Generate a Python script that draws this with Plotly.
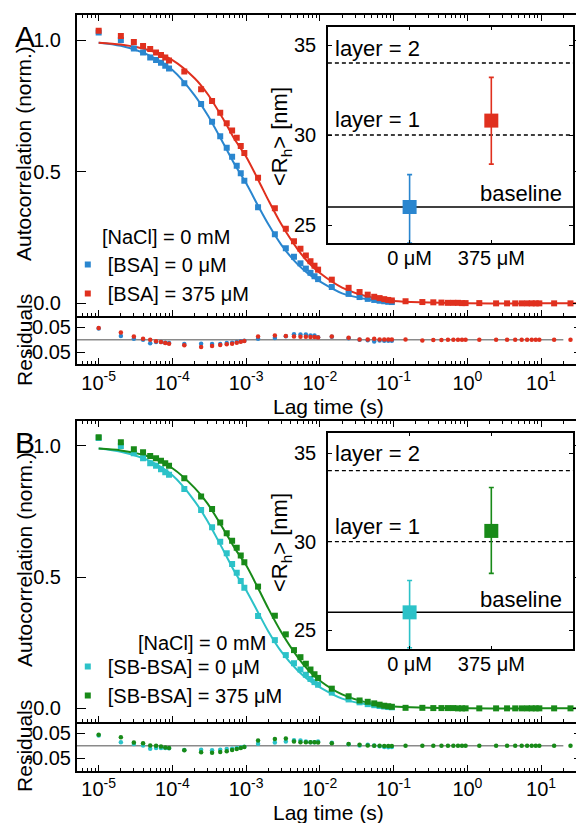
import plotly.graph_objects as go

# the page body adds an 8px offset, so the figure is laid out in page pixels minus it
PAGE_W, PAGE_H = 584, 823
OFF = 8
W, H = PAGE_W - OFF, PAGE_H - OFF
FONT = "Liberation Sans, Arial, Helvetica, sans-serif"

# ---------------- data ----------------
lag_time = [1e-5, 2e-5, 3e-5, 4e-5, 5e-5, 6e-5, 7e-5, 8e-5, 9e-5,
            1.45e-4, 2.45e-4, 3.45e-4, 4.45e-4, 5.45e-4, 6.45e-4, 7.45e-4, 8.45e-4, 9.45e-4,
            1.45e-3, 2.45e-3, 3.45e-3, 4.45e-3, 5.45e-3, 6.45e-3, 7.45e-3, 8.45e-3, 9.45e-3,
            1.45e-2, 2.45e-2, 3.45e-2, 4.45e-2, 5.45e-2, 6.45e-2, 7.45e-2, 8.45e-2, 9.45e-2,
            0.145, 0.245, 0.345, 0.445, 0.545, 0.645, 0.745, 0.845, 0.945,
            1.45, 2.45, 3.45, 4.45, 5.45, 6.45, 7.45, 8.45, 9.45,
            15, 25, 35]

# Panel A : BSA
bsa0_A = [1.029, 1.000, 0.968, 0.953, 0.934, 0.924, 0.914, 0.902, 0.892,
          0.836, 0.757, 0.690, 0.635, 0.591, 0.557, 0.523, 0.494, 0.466,
          0.365, 0.262, 0.209, 0.177, 0.152, 0.132, 0.116, 0.103, 0.092,
          0.062, 0.036, 0.024, 0.017, 0.013, 0.010, 0.008, 0.006, 0.005]
bsa375_A = [1.035, 1.015, 0.992, 0.977, 0.966, 0.953, 0.943, 0.934, 0.922,
            0.880, 0.813, 0.768, 0.724, 0.684, 0.656, 0.629, 0.598, 0.571,
            0.477, 0.361, 0.283, 0.236, 0.207, 0.182, 0.160, 0.143, 0.128,
            0.090, 0.059, 0.043, 0.033, 0.025, 0.020, 0.016, 0.013, 0.011,
            0.008, 0.005, 0.004, 0.003, 0.002, 0.002, 0.002, 0.001, 0.001,
            0.001, 0.000, 0.000, 0.000, 0.000, 0.000, 0.000, 0.000, 0.000,
            0.000, 0.000, 0.000]
res_bsa0_A = [0.044, 0.015, 0.004, 0.000, -0.014, -0.009, -0.009, -0.012, -0.013,
              -0.017, -0.016, -0.017, -0.017, -0.013, -0.012, -0.009, -0.006, -0.004,
              0.004, 0.007, 0.014, 0.021, 0.020, 0.020, 0.017, 0.017, 0.010,
              0.012, 0.006, 0.000, -0.002, -0.007, -0.003, -0.004, -0.004, -0.004]
res_bsa375_A = [0.046, 0.028, 0.013, 0.004, 0.000, -0.006, -0.009, -0.013, -0.016,
                -0.022, -0.029, -0.025, -0.021, -0.018, -0.016, -0.012, -0.008, -0.005,
                0.013, 0.017, 0.015, 0.013, 0.012, 0.012, 0.011, 0.011, 0.009,
                0.013, 0.008, 0.001, 0.001, 0.004, 0.001, 0.001, 0.001, 0.001,
                0.001, -0.003, -0.001, -0.001, 0.000, 0.000, 0.000, 0.000, 0.000,
                0.000, 0.000, 0.000, 0.000, 0.000, 0.000, 0.000, 0.000, 0.000,
                0.000, 0.000, 0.000]

fit_lag = [1e-5, 2e-5, 5e-5, 1e-4, 2e-4, 3e-4, 5e-4, 7e-4, 1e-3, 1.5e-3, 2e-3, 3e-3,
           5e-3, 7e-3, 1e-2, 2e-2, 5e-2, 1e-1, 1, 10, 40]
fit_bsa0_A = [0.990, 0.978, 0.940, 0.886, 0.790, 0.715, 0.603, 0.527, 0.456, 0.363, 0.300,
              0.222, 0.148, 0.112, 0.083, 0.038, 0.013, 0.005]
fit_bsa375_A = [0.990, 0.983, 0.960, 0.924, 0.855, 0.795, 0.695, 0.622, 0.557, 0.462, 0.392,
                0.300, 0.205, 0.155, 0.115, 0.060, 0.022, 0.009, 0.000, 0.000, 0.000]

# Panel B : SB-BSA
sb0_B = [1.030, 1.000, 0.972, 0.953, 0.934, 0.924, 0.911, 0.900, 0.890,
         0.836, 0.756, 0.690, 0.635, 0.591, 0.550, 0.517, 0.485, 0.460,
         0.352, 0.260, 0.203, 0.172, 0.148, 0.128, 0.112, 0.100, 0.090,
         0.060, 0.034, 0.023, 0.016, 0.012, 0.009, 0.007, 0.005, 0.004]
sb375_B = [1.033, 1.014, 0.987, 0.976, 0.962, 0.953, 0.944, 0.934, 0.924,
           0.877, 0.807, 0.760, 0.708, 0.667, 0.639, 0.612, 0.582, 0.557,
           0.464, 0.353, 0.282, 0.222, 0.195, 0.170, 0.148, 0.130, 0.116,
           0.075, 0.046, 0.030, 0.025, 0.019, 0.014, 0.010, 0.008, 0.006,
           0.002, 0.002, 0.001, 0.001, 0.001, 0.001, 0.000, 0.000, 0.000,
           0.000, 0.000, 0.000, 0.000, 0.000, 0.000, 0.000, 0.000, 0.000,
           0.000, 0.000, 0.000]
res_sb0_B = [0.040, 0.014, 0.007, 0.001, -0.012, -0.009, -0.009, -0.009, -0.010,
             -0.017, -0.016, -0.018, -0.016, -0.013, -0.012, -0.009, -0.007, -0.004,
             0.008, 0.013, 0.017, 0.021, 0.020, 0.017, 0.014, 0.014, 0.017,
             0.012, 0.006, 0.001, 0.004, 0.001, -0.002, -0.005, -0.006, -0.005]
res_sb375_B = [0.043, 0.033, 0.013, 0.010, 0.001, 0.000, -0.003, -0.007, -0.009,
               -0.018, -0.026, -0.028, -0.025, -0.022, -0.017, -0.013, -0.009, -0.005,
               0.020, 0.026, 0.028, 0.017, 0.014, 0.014, 0.014, 0.014, 0.013,
               0.010, 0.007, 0.004, 0.001, 0.000, 0.000, -0.001, -0.001, -0.001,
               0.000, 0.000, 0.000, 0.000, 0.000, 0.000, 0.000, 0.000, 0.000,
               0.000, 0.000, 0.000, 0.000, 0.000, 0.000, 0.000, 0.000, 0.000,
               0.000, 0.000, 0.000]
fit_sb0_B = [0.990, 0.978, 0.942, 0.888, 0.790, 0.713, 0.598, 0.520, 0.450, 0.358, 0.293,
             0.216, 0.144, 0.108, 0.080, 0.037, 0.012, 0.005]
fit_sb375_B = [0.990, 0.983, 0.958, 0.915, 0.840, 0.780, 0.680, 0.610, 0.545, 0.450, 0.380,
               0.290, 0.195, 0.145, 0.105, 0.053, 0.018, 0.007, 0.000, 0.000, 0.000]

residual_zero_span = [5e-6, 20]
residual_zero_value = [0, 0]

# insets: hydrodynamic radius
conc_labels = ["0 μM", "375 μM"]
conc_pos = [1, 2]
inset_xspan = [0, 3]
rh_A = [26.0, 30.8]
rh_err_up_A = [1.8, 2.4]
rh_err_dn_A = [2.0, 2.42]
rh_B = [26.0, 30.6]
rh_err_up_B = [1.8, 2.45]
rh_err_dn_B = [2.0, 2.4]
layer_levels = [34, 30]
layer_labels = ["layer = 2", "layer = 1"]
baseline_level = 26

tick_exponents = [-5, -4, -3, -2, -1, 0, 1]
tick_labels = ["10<sup>-5</sup>", "10<sup>-4</sup>", "10<sup>-3</sup>", "10<sup>-2</sup>",
               "10<sup>-1</sup>", "10<sup>0</sup>", "10<sup>1</sup>"]
main_yticks = [0, 0.5, 1.0]
main_yticklabels = ["0.0", "0.5", "1.0"]
res_yticks = [-0.05, 0.05]
res_yticklabels = ["-0.05", "0.05"]
inset_yticks = [25, 30, 35]

RED = "#E0301E"
BLUE = "#2A86CF"
CYAN = "#2CC2C8"
GREEN = "#188A18"


def px_x(p):
    return (p - OFF) / W


def px_y(p):
    return 1 - (p - OFF) / H


major_tickvals = [10.0 ** e for e in tick_exponents]
minor_tickvals = [k * 10.0 ** e for e in range(-6, 2) for k in range(2, 10)]

fig = go.Figure()

MAIN_XDOM = [px_x(77), 1.0]
XRANGE = [-5.297, 1.554]
INSET_XDOM = [px_x(329), px_x(575)]

panels = [
    dict(tag="A", main=("x", "y"), res=("x2", "y2"), ins=("x3", "y3"), legend="legend",
         main_dom=[px_y(316), px_y(15)], res_dom=[px_y(364), px_y(316)],
         ins_dom=[px_y(243), px_y(27)], main_range=[-0.048, 1.095],
         res_range=[-0.0957, 0.0933], ins_range=[24, 36],
         d0=bsa0_A, d1=bsa375_A, r0=res_bsa0_A, r1=res_bsa375_A,
         f0=fit_bsa0_A, f1=fit_bsa375_A, c0=BLUE, c1=RED,
         n0="[BSA] = 0 μM", n1="[BSA] = 375 μM",
         rh=rh_A, eu=rh_err_up_A, ed=rh_err_dn_A),
    dict(tag="B", main=("x4", "y4"), res=("x5", "y5"), ins=("x6", "y6"), legend="legend2",
         main_dom=[px_y(722), px_y(421)], res_dom=[px_y(770.5), px_y(722)],
         ins_dom=[px_y(649), px_y(433)], main_range=[-0.052, 1.095],
         res_range=[-0.0976, 0.0933], ins_range=[23.93, 36.13],
         d0=sb0_B, d1=sb375_B, r0=res_sb0_B, r1=res_sb375_B,
         f0=fit_sb0_B, f1=fit_sb375_B, c0=CYAN, c1=GREEN,
         n0="[SB-BSA] = 0 μM", n1="[SB-BSA] = 375 μM",
         rh=rh_B, eu=rh_err_up_B, ed=rh_err_dn_B),
]

layout_axes = {}


def axname(a):
    return a[0] + "axis" + a[1:]


for P in panels:
    mx, my = P["main"]
    rx, ry = P["res"]
    ix, iy = P["ins"]
    # fit lines
    fig.add_trace(go.Scatter(x=fit_lag[:len(P["f0"])], y=P["f0"], mode="lines",
                             line=dict(color=P["c0"], width=2, shape="spline", smoothing=0.8),
                             showlegend=False, xaxis=mx, yaxis=my))
    fig.add_trace(go.Scatter(x=fit_lag[:len(P["f1"])], y=P["f1"], mode="lines",
                             line=dict(color=P["c1"], width=2, shape="spline", smoothing=0.8),
                             showlegend=False, xaxis=mx, yaxis=my))
    # data
    fig.add_trace(go.Scatter(x=lag_time[:len(P["d0"])], y=P["d0"], mode="markers",
                             marker=dict(symbol="square", size=6, color=P["c0"]),
                             name=P["n0"], legend=P["legend"], xaxis=mx, yaxis=my))
    fig.add_trace(go.Scatter(x=lag_time[:len(P["d1"])], y=P["d1"], mode="markers",
                             marker=dict(symbol="square", size=6, color=P["c1"]),
                             name=P["n1"], legend=P["legend"], xaxis=mx, yaxis=my))
    # residuals
    fig.add_trace(go.Scatter(x=residual_zero_span, y=residual_zero_value, mode="lines",
                             line=dict(color="#8a8a8a", width=1.5), showlegend=False,
                             xaxis=rx, yaxis=ry))
    fig.add_trace(go.Scatter(x=lag_time[:len(P["r0"])], y=P["r0"], mode="markers",
                             marker=dict(symbol="circle", size=4.5, color=P["c0"]),
                             showlegend=False, xaxis=rx, yaxis=ry))
    fig.add_trace(go.Scatter(x=lag_time[:len(P["r1"])], y=P["r1"], mode="markers",
                             marker=dict(symbol="circle", size=4.5, color=P["c1"]),
                             showlegend=False, xaxis=rx, yaxis=ry))
    # inset reference levels
    for lev in layer_levels:
        fig.add_trace(go.Scatter(x=inset_xspan, y=[lev, lev], mode="lines",
                                 line=dict(color="black", width=1.3, dash="4px,3px"),
                                 showlegend=False, hoverinfo="skip", xaxis=ix, yaxis=iy))
    fig.add_trace(go.Scatter(x=inset_xspan, y=[baseline_level, baseline_level], mode="lines",
                             line=dict(color="black", width=1.5),
                             showlegend=False, hoverinfo="skip", xaxis=ix, yaxis=iy))
    # inset points
    for k, col in enumerate([P["c0"], P["c1"]]):
        fig.add_trace(go.Scatter(x=[conc_pos[k]], y=[P["rh"][k]], mode="markers",
                                 marker=dict(symbol="square", size=14, color=col),
                                 error_y=dict(type="data", symmetric=False,
                                              array=[P["eu"][k]], arrayminus=[P["ed"][k]],
                                              color=col, thickness=1.6, width=2.5),
                                 showlegend=False, xaxis=ix, yaxis=iy))

    common = dict(showline=True, linecolor="black", linewidth=1.5, showgrid=False,
                  zeroline=False, ticks="inside", tickcolor="black",
                  tickfont=dict(family=FONT, size=20, color="black"))
    logx = dict(type="log", range=XRANGE, domain=MAIN_XDOM, tickmode="array",
                tickvals=major_tickvals, ticktext=tick_labels, ticklen=6, tickwidth=1.2,
                minor=dict(tickmode="array", tickvals=minor_tickvals, ticks="inside",
                           ticklen=3, tickwidth=1, tickcolor="black", showgrid=False))
    layout_axes[axname(mx)] = dict(**common, **logx, anchor=my, mirror="ticks",
                                   showticklabels=False)
    layout_axes[axname(my)] = dict(**common, domain=P["main_dom"], range=P["main_range"],
                                   anchor=mx, tickmode="array", tickvals=main_yticks,
                                   ticktext=main_yticklabels, ticklen=9, tickwidth=1.3,
                                   mirror="ticks", ticklabelstandoff=10)
    layout_axes[axname(rx)] = dict(**common, **logx, anchor=ry, mirror=False,
                                   showticklabels=True, ticklabelstandoff=0)
    layout_axes[axname(ry)] = dict(**common, domain=P["res_dom"], range=P["res_range"],
                                   anchor=rx, tickmode="array", tickvals=res_yticks,
                                   ticktext=res_yticklabels, ticklen=8, tickwidth=1.3,
                                   mirror="ticks", ticklabelstandoff=0)
    layout_axes[axname(ix)] = dict(**common, domain=INSET_XDOM, range=inset_xspan, anchor=iy,
                                   tickmode="array", tickvals=conc_pos, ticktext=conc_labels,
                                   ticklen=3, tickwidth=1.2, mirror="ticks",
                                   ticklabelstandoff=-4)
    layout_axes[axname(iy)] = dict(**common, domain=P["ins_dom"], range=P["ins_range"],
                                   anchor=ix, tickmode="array", tickvals=inset_yticks,
                                   ticklen=4, tickwidth=1.2, mirror="ticks",
                                   ticklabelstandoff=6)


def ann(text, x, y, size, xanchor="center", angle=0, yanchor="middle"):
    return dict(text=text, x=px_x(x), y=px_y(y), xref="paper", yref="paper",
                showarrow=False, xanchor=xanchor, yanchor=yanchor, textangle=angle,
                font=dict(family=FONT, size=size, color="black"))


annotations = []
for P, dy in zip(panels, [0, 406]):
    annotations.append(ann(P["tag"], 25, 36 + dy, 30))
    annotations.append(ann("Autocorrelation (norm.)", 24, 153 + dy, 21, angle=-90))
    annotations.append(ann("Residuals", 24, 340 + dy, 21, angle=-90))
    annotations.append(ann("Lag time (s)", 330, 406 + dy, 21))
    annotations.append(ann("&lt;R<sub>h</sub>&gt; [nm]", 282, 137 + dy, 22, angle=-90))
    annotations.append(ann(layer_labels[0], 334, 48 + dy, 22, xanchor="left"))
    annotations.append(ann(layer_labels[1], 334, 120 + dy, 22, xanchor="left"))
    annotations.append(ann("baseline", 566, 193 + dy, 22, xanchor="right"))

annotations.append(ann("[NaCl] = 0 mM", 100, 237, 20, xanchor="left"))
annotations.append(ann("[NaCl] = 0 mM", 136, 643, 20, xanchor="left"))

leg_common = dict(xanchor="left", yanchor="top", bgcolor="rgba(0,0,0,0)",
                  font=dict(family=FONT, size=20, color="black"), itemwidth=30,
                  tracegroupgap=0)

fig.update_layout(
    width=W, height=H, margin=dict(l=0, r=0, t=0, b=0),
    paper_bgcolor="white", plot_bgcolor="white",
    font=dict(family=FONT, size=20, color="black"),
    showlegend=True,
    legend=dict(**leg_common, x=px_x(68), y=px_y(245)),
    legend2=dict(**leg_common, x=px_x(68), y=px_y(647)),
    annotations=annotations,
    **layout_axes,
)

fig.write_html("out.html")
